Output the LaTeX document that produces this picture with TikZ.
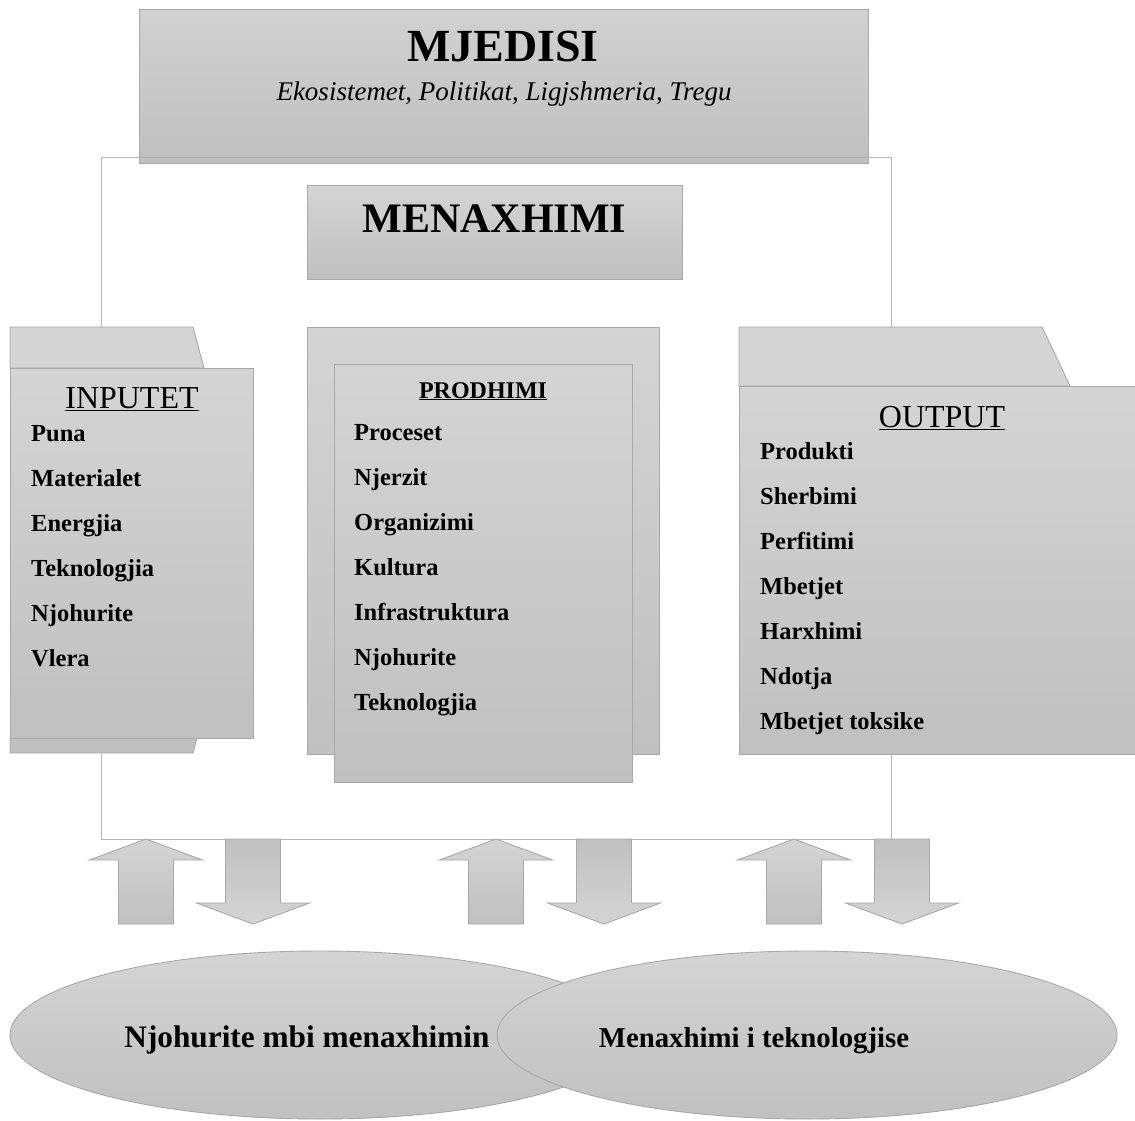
\documentclass[tikz,border=0pt]{standalone}
\usepackage{fontspec}
\setmainfont{Liberation Serif}
\usetikzlibrary{shapes.geometric}

\definecolor{lightfill}{RGB}{212,212,212}
\definecolor{darkfill}{RGB}{192,192,192}
\definecolor{edgegray}{RGB}{168,168,168}
\definecolor{linkgray}{RGB}{182,182,182}

\begin{document}
\begin{tikzpicture}[x=1pt,y=-1pt,
  box/.style={draw=edgegray,line width=0.9pt,top color=lightfill,bottom color=darkfill,inner sep=0pt},
  link/.style={draw=linkgray,line width=0.9pt},
  heading/.style={anchor=base,inner sep=0pt},
  item/.style={anchor=base west,inner sep=0pt,font=\fontsize{24.5}{27}\selectfont\bfseries}]
\useasboundingbox (0,0) rectangle (1135,1120);

% environment and management
\draw[box,top color=darkfill] (139,157) rectangle (868,163);
\node[box,top color=lightfill!85!darkfill,minimum width=729pt,minimum height=148pt] (mjedisi) at (503.5,83) {};
\node[heading,font=\fontsize{46}{50}\selectfont\bfseries] (mjtitle) at (503,61) {MJEDISI};
\node[heading,font=\fontsize{27}{30}\selectfont\itshape] (mjsub) at (504,100) {Ekosistemet, Politikat, Ligjshmeria, Tregu};
\node[box,minimum width=375pt,minimum height=94pt] (menaxh) at (494.5,232) {};
\node[heading,font=\fontsize{42}{46}\selectfont\bfseries] (menaxhtxt) at (494.5,232) {MENAXHIMI};

% inputs folder
\draw[box,fill=lightfill,shade=none] (10,327) -- (193,327) -- (204,368) -- (10,368) -- cycle;
\draw[box,fill=darkfill,shade=none] (10,738) -- (197,738) -- (193,753) -- (10,753) -- cycle;
\node[box,minimum width=243pt,minimum height=370pt] (inputet) at (131.5,553) {};
\node[heading,font=\fontsize{32}{36}\selectfont] (intitle) at (132,408) {\underline{INPUTET}};
\foreach \t [count=\i from 0] in {Puna,Materialet,Energjia,Teknologjia,Njohurite,Vlera}
  \node[item] (in\i) at (31,441+45*\i) {\t};

% production
\node[box,minimum width=352pt,minimum height=427pt] (prodback) at (483,540.5) {};
\node[box,minimum width=298pt,minimum height=418pt] (prodfront) at (483,573) {};
\node[heading,font=\fontsize{24}{28}\selectfont\bfseries] (prodtitle) at (483,398) {\underline{PRODHIMI}};
\foreach \t [count=\i from 0] in {Proceset,Njerzit,Organizimi,Kultura,Infrastruktura,Njohurite,Teknologjia}
  \node[item] (prod\i) at (354,440+45*\i) {\t};

% outputs folder
\draw[box,fill=lightfill,shade=none] (739,327) -- (1042,327) -- (1070,386) -- (739,386) -- cycle;
\node[box,minimum width=411pt,minimum height=368pt] (output) at (944.5,570) {};
\node[heading,font=\fontsize{32}{36}\selectfont] (outtitle) at (942,427) {\underline{OUTPUT}};
\foreach \t [count=\i from 0] in {Produkti,Sherbimi,Perfitimi,Mbetjet,Harxhimi,Ndotja,Mbetjet toksike}
  \node[item] (out\i) at (760,459+45*\i) {\t};

% loop round the system
\coordinate (intop) at (101,327);
\coordinate (outtop) at (891,327);
\coordinate (inbot) at (101,753);
\coordinate (outbot) at (891,753);
\coordinate (loopleft) at (101,839);
\coordinate (loopright) at (891,839);
\draw[link] (mjedisi.south west) -| (intop);
\draw[link] (mjedisi.south east) -| (outtop);
\draw[link] (inbot) -- (loopleft) -- (loopright) -- (outbot);

% exchange arrows
\foreach \x in {146,496,794}
  \draw[box] (\x,839) -- ++(56.5,21) -- ++(-29,0) -- ++(0,64) -- ++(-55,0) -- ++(0,-64) -- ++(-29,0) -- cycle;
\foreach \x in {253,604,902}
  \draw[box,top color=darkfill,bottom color=lightfill] (\x-27.5,839) -- ++(55,0) -- ++(0,64) -- ++(29,0) -- ++(-56.5,21) -- ++(-56.5,-21) -- ++(29,0) -- cycle;

% knowledge ellipses
\node[box,ellipse,minimum width=620pt,minimum height=168pt] (knowell) at (320,1035) {};
\node[heading,font=\fontsize{31.3}{34}\selectfont\bfseries] (knowtxt) at (307,1047) {Njohurite mbi menaxhimin};
\node[box,ellipse,minimum width=620pt,minimum height=168pt] (techell) at (807,1035) {};
\node[heading,font=\fontsize{28.8}{31}\selectfont\bfseries] (techtxt) at (754,1047) {Menaxhimi i teknologjise};
\end{tikzpicture}
\end{document}
